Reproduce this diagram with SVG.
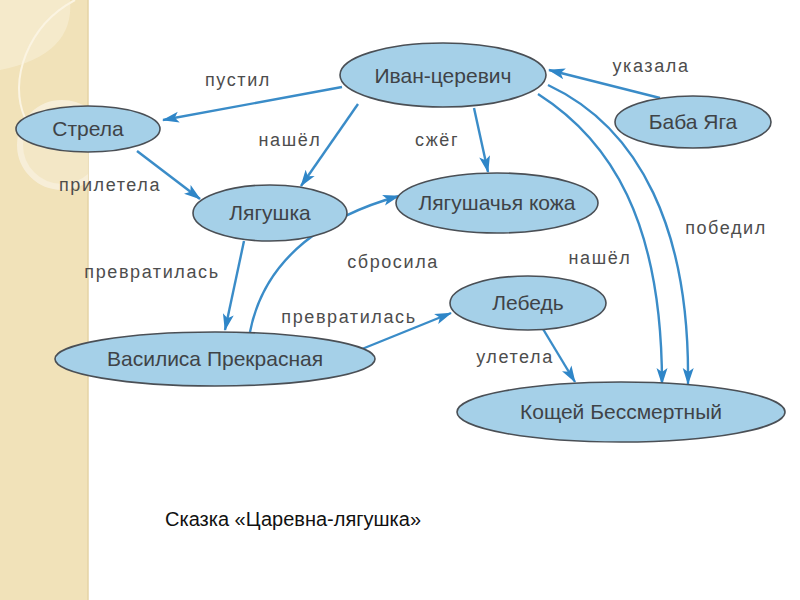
<svg xmlns="http://www.w3.org/2000/svg" width="800" height="600" viewBox="0 0 800 600">
<defs>
<marker id="ah" markerUnits="userSpaceOnUse" markerWidth="18" markerHeight="12" refX="16" refY="6" orient="auto">
<path d="M0,0.5 L17,6 L0,11.5 L4,6 Z" fill="#2f86c8"/>
</marker>
<clipPath id="band"><rect x="0" y="0" width="88" height="600"/></clipPath>
<style>
.node ellipse{fill:#a5d0e8;stroke:#4a4f55;stroke-width:1.6}
.node text{font-family:"Liberation Sans",Arial,sans-serif;font-size:21px;fill:#3f4347;text-anchor:middle}
.lbl{font-family:"Liberation Sans",Arial,sans-serif;font-size:18px;letter-spacing:1.6px;fill:#4d4d4d;text-anchor:middle}
.edge{fill:none;stroke:#3a8cc8;stroke-width:2.4;marker-end:url(#ah)}
</style>
</defs>
<rect width="800" height="600" fill="#ffffff"/>
<g id="decor">
<rect x="0" y="0" width="88" height="600" fill="#f1e2b9"/>
<line x1="88" y1="0" x2="88" y2="600" stroke="#e4d3a6" stroke-width="1.5"/>
<g clip-path="url(#band)">
<path d="M0,0 H70 Q75,55 0,70 Z" fill="#f6ecd0" opacity="0.8"/>
<path d="M75,0 C28,25 8,80 25,118" fill="none" stroke="#fbf4e2" stroke-width="2"/>
<circle cx="62" cy="145" r="42" fill="#f4e8c8" stroke="#f8f0dc" stroke-width="6" opacity="0.9"/>
</g>
</g>
<g id="connectors">
<path class="edge" d="M342,87 L163,120"/>
<path class="edge" d="M358,104 L301,186"/>
<path class="edge" d="M474,108 L488,172"/>
<path class="edge" d="M660,98 L549,70"/>
<path class="edge" d="M538,94 C610,140 662,220 662,384"/>
<path class="edge" d="M548,85 C640,128 690,230 688,384"/>
<path class="edge" d="M137,151 L200,199"/>
<path class="edge" d="M244,241 L225,330"/>
<path class="edge" d="M250,332 C265,255 330,215 399,196"/>
<path class="edge" d="M362,349 L451,313"/>
<path class="edge" d="M543,329 L575,382"/>
</g>
<g id="labels">
<text class="lbl" x="238" y="86">пустил</text>
<text class="lbl" x="290" y="146">нашёл</text>
<text class="lbl" x="437" y="146">сжёг</text>
<text class="lbl" x="651" y="72">указала</text>
<text class="lbl" x="726" y="234">победил</text>
<text class="lbl" x="600" y="264">нашёл</text>
<text class="lbl" x="110" y="191">прилетела</text>
<text class="lbl" x="152" y="278">превратилась</text>
<text class="lbl" x="393" y="268">сбросила</text>
<text class="lbl" x="349" y="323">превратилась</text>
<text class="lbl" x="515" y="363">улетела</text>
</g>
<g id="n-ivan" class="node"><ellipse cx="443" cy="75" rx="103" ry="32"/><text x="443" y="83">Иван-церевич</text></g>
<g id="n-strela" class="node"><ellipse cx="88" cy="129" rx="72" ry="23"/><text x="88" y="136">Стрела</text></g>
<g id="n-baba" class="node"><ellipse cx="693" cy="122" rx="78" ry="26"/><text x="693" y="129">Баба Яга</text></g>
<g id="n-frog" class="node"><ellipse cx="270" cy="213" rx="77" ry="28"/><text x="270" y="220">Лягушка</text></g>
<g id="n-skin" class="node"><ellipse cx="497" cy="203" rx="101" ry="30"/><text x="497" y="210">Лягушачья кожа</text></g>
<g id="n-vasilisa" class="node"><ellipse cx="215" cy="359" rx="160" ry="27"/><text x="215" y="366">Василиса Прекрасная</text></g>
<g id="n-swan" class="node"><ellipse cx="528" cy="303" rx="78" ry="27"/><text x="528" y="310">Лебедь</text></g>
<g id="n-koschei" class="node"><ellipse cx="621" cy="412" rx="164" ry="30"/><text x="621" y="419">Кощей Бессмертный</text></g>
<text x="165" y="526" font-family="Liberation Sans,Arial,sans-serif" font-size="20" fill="#111">Сказка «Царевна-лягушка»</text>
</svg>
